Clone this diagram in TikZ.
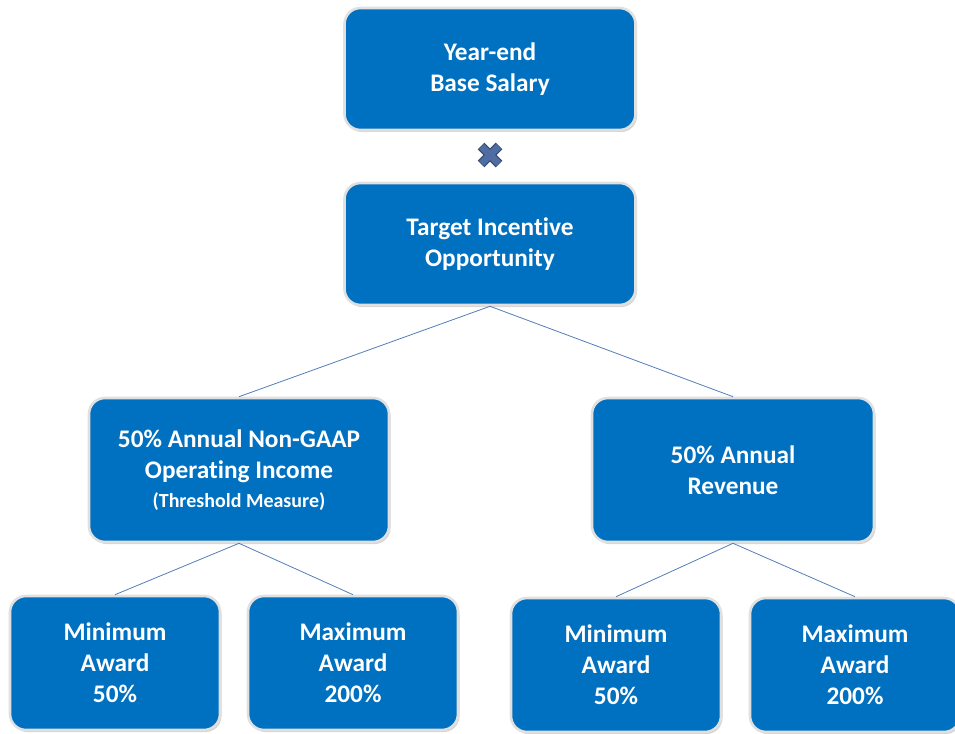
\documentclass[tikz,border=0pt]{standalone}
\usepackage{fontspec}
\setmainfont{Carlito}[Ligatures=NoCommon]
\usetikzlibrary{positioning,shadows}
\definecolor{boxblue}{RGB}{0,112,192}
\definecolor{linkblue}{RGB}{84,124,186}
\definecolor{crossblue}{RGB}{79,109,163}
\begin{document}
\begin{tikzpicture}
  [x=1pt,y=-1pt,
   goal/.style={rectangle,rounded corners=16pt,draw=white!88!black,
                line width=2.6pt,fill=boxblue,text=white,
                font=\fontsize{25.3}{31}\selectfont\bfseries,align=center,
                inner sep=0pt,minimum height=122pt,
                drop shadow={shadow xshift=1.5pt,shadow yshift=-2pt,opacity=0.35}},
   award/.style={goal,minimum width=210pt,minimum height=134pt},
   link/.style={draw=linkblue,line width=0.8pt}]
  \useasboundingbox (0,0) rectangle (955,733);

  \node[goal,minimum width=291pt] (salary) at (490,69)  {Year-end\\Base Salary};
  \node[goal,minimum width=291pt] (target) at (490,244) {Target Incentive\\Opportunity};
  \node[goal,minimum width=300pt,minimum height=144pt] (income) at (239,470)
       {50\% Annual Non-GAAP\\Operating Income\\[-2pt]
        {\fontsize{20}{24}\selectfont (Threshold Measure)}};
  \node[goal,minimum width=282pt,minimum height=144pt] (revenue) at (733,470)
       {50\% Annual\\Revenue};

  \node[award] (incmin) at (115,663) {Minimum\\Award\\50\%};
  \node[award] (incmax) at (353,663) {Maximum\\Award\\200\%};
  \node[award] (revmin) at (616,665) {Minimum\\Award\\50\%};
  \node[award] (revmax) at (855,665) {Maximum\\Award\\200\%};

  % multiplication sign between the top boxes
  \coordinate (times) at (490,155);
  \draw[crossblue!70!black,line width=9.5pt]
       ([shift={(-9,-9)}]times) -- ([shift={(9,9)}]times)
       ([shift={(-9,9)}]times) -- ([shift={(9,-9)}]times);
  \draw[crossblue,line width=7pt]
       ([shift={(-8.5,-8.5)}]times) -- ([shift={(8.5,8.5)}]times)
       ([shift={(-8.5,8.5)}]times) -- ([shift={(8.5,-8.5)}]times);

  \draw[link] (target.south) -- (income.north);
  \draw[link] (target.south) -- (revenue.north);
  \draw[link] (income.south) -- (incmin.north);
  \draw[link] (income.south) -- (incmax.north);
  \draw[link] (revenue.south) -- (revmin.north);
  \draw[link] (revenue.south) -- (revmax.north);
\end{tikzpicture}
\end{document}
